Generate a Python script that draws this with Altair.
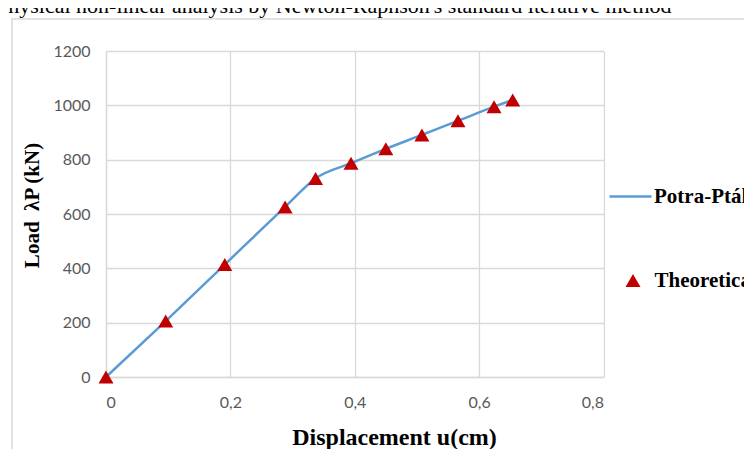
import altair as alt
import pandas as pd

# ---- data ----
disp = [0, 0.096, 0.191, 0.288, 0.337, 0.394, 0.450, 0.508, 0.566, 0.624, 0.654]
load = [0, 206, 414, 626, 731, 787, 840, 891, 943, 995, 1020]
x_ticks = [0, 0.2, 0.4, 0.6, 0.8]
y_ticks = [0, 200, 400, 600, 800, 1000, 1200]
series_line = "Potra-Pták"
series_pts = "Theoretical"
title_text = "Physical non-linear analysis by Newton-Raphson's standard iterative method"

line_df = pd.DataFrame({"u": disp, "P": load, "series": series_line})
pts_df = pd.DataFrame({"u": disp, "P": load, "series": series_pts})
one = pd.DataFrame({"a": [0]})

W, H = 497.5, 326
SERIF = "Liberation Serif"
TRI = "M0,-0.866L1,0.866L-1,0.866Z"

x_enc = alt.X(
    "u:Q",
    scale=alt.Scale(domain=[0, 0.8], nice=False, zero=False),
    axis=alt.Axis(
        values=x_ticks,
        labelExpr="datum.value == 0 ? '0' : replace(format(datum.value, '.1f'), '.', ',')",
        title="Displacement u(cm)",
        titleX=288, titleY=67, titleAlign="center", titleBaseline="alphabetic",
        titleFont=SERIF, titleFontSize=24, titleFontWeight="bold", titleColor="black",
        labelPadding=17,
    ),
)
y_enc = alt.Y(
    "P:Q",
    scale=alt.Scale(domain=[0, 1200], nice=False),
    axis=alt.Axis(
        values=y_ticks, format="d",
        title="Load \u00a0λP (kN)",
        titleX=-74, titleY=154, titleAngle=270, titleAlign="center", titleBaseline="middle",
        titleFont=SERIF, titleFontSize=21, titleFontWeight="bold", titleColor="black",
        labelPadding=16,
    ),
)

frame = alt.Chart(one).mark_rect(fill="transparent", stroke="#d9d9d9", strokeWidth=1.5).encode(
    x=alt.value(-94), x2=alt.value(700), y=alt.value(-32), y2=alt.value(600)
)
title = alt.Chart(one).mark_text(
    align="left", baseline="alphabetic", font=SERIF, fontSize=22, color="black"
).encode(x=alt.value(-110), y=alt.value(-38), text=alt.value(title_text))

leg_common = dict(
    orient="none", title=None, padding=0,
    labelFont=SERIF, labelFontSize=21, labelFontWeight="bold", labelColor="black",
    labelLimit=400,
)

line = alt.Chart(line_df).mark_line(interpolate="monotone", strokeWidth=2.5).encode(
    x=x_enc, y=y_enc,
    color=alt.Color(
        "series:N",
        scale=alt.Scale(domain=[series_line], range=["#5B9BD5"]),
        legend=alt.Legend(symbolType="stroke", symbolSize=1764, symbolStrokeWidth=2.5,
                          legendX=502, legendY=123, labelOffset=1, **leg_common),
    ),
)
pts = alt.Chart(pts_df).mark_point(filled=True, size=225, opacity=1, color="#C00000").encode(
    x="u:Q", y="P:Q",
    shape=alt.Shape(
        "series:N",
        scale=alt.Scale(domain=[series_pts], range=[TRI]),
        legend=alt.Legend(symbolSize=225, symbolFillColor="#C00000", symbolStrokeWidth=0,
                          symbolOpacity=1,
                          legendX=516.5, legendY=219, labelOffset=11, **leg_common),
    ),
)

chart = alt.layer(frame, title, line, pts).properties(
    width=W, height=H,
    padding={"left": 98, "top": 43, "right": 140.5, "bottom": 72},
    autosize=alt.AutoSizeParams(type="none"),
    background="white",
).configure_view(stroke=None).configure_axis(
    labelFont="Lato", labelFontSize=16, labelColor="#595959",
    ticks=False, tickSize=0,
    domainColor="#d9d9d9", domainWidth=1.3,
    grid=True, gridColor="#d9d9d9", gridWidth=1.3,
)

chart.save("out.html", embed_options={"renderer": "svg", "actions": False})
